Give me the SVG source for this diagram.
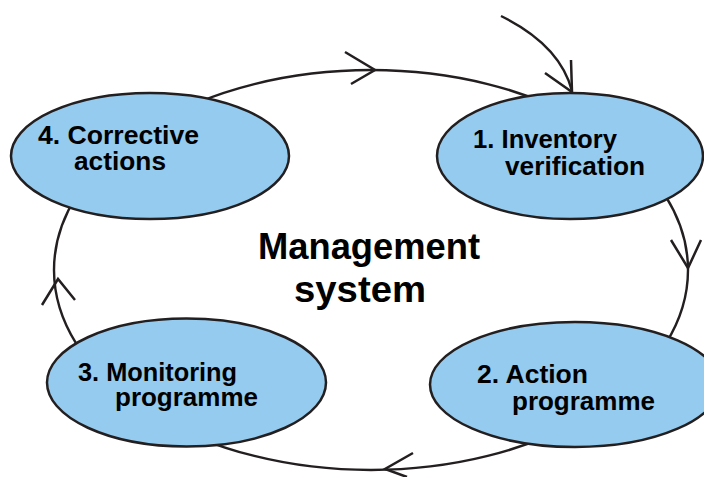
<svg xmlns="http://www.w3.org/2000/svg" width="704" height="477" viewBox="0 0 704 477">
  <style>
    .loop { fill: none; stroke: #231f20; stroke-width: 2.4; }
    .head { fill: none; stroke: #231f20; stroke-width: 2.5; stroke-linecap: butt; }
    .node { fill: #94cbee; stroke: #231f20; stroke-width: 2.5; }
    .lbl { font-family: "Liberation Sans", Arial, sans-serif; font-weight: bold; font-size: 25px; fill: #000; }
    .title { font-family: "Liberation Sans", Arial, sans-serif; font-weight: bold; font-size: 36px; fill: #000; }
  </style>
  <rect width="704" height="477" fill="#ffffff"/>

  <!-- cycle loop and its arrowheads -->
  <g id="connectors">
    <ellipse class="loop" cx="371" cy="270" rx="317" ry="200"/>
    <polyline class="head" points="345,52 375,70 351,84"/>
    <polyline class="head" points="671,240 688,268 701,240"/>
    <polyline class="head" points="413,453 385,469 407,477"/>
    <polyline class="head" points="42,305 58,279 75,300"/>
    <!-- entry arrow into step 1 -->
    <path class="loop" d="M501,16 Q560,45 572,91"/>
    <polyline class="head" points="545,73 572,92 571,60"/>
  </g>

  <text class="title" x="258" y="259" textLength="222" lengthAdjust="spacingAndGlyphs">Management</text>
  <text class="title" x="294" y="302" textLength="132" lengthAdjust="spacingAndGlyphs">system</text>

  <g id="step4">
    <ellipse class="node" cx="150" cy="156" rx="139" ry="63"/>
    <text class="lbl" x="38" y="144" textLength="161" lengthAdjust="spacingAndGlyphs">4. Corrective</text>
    <text class="lbl" x="74" y="170" textLength="92" lengthAdjust="spacingAndGlyphs">actions</text>
  </g>

  <g id="step1">
    <ellipse class="node" cx="570" cy="156" rx="133" ry="63"/>
    <text class="lbl" x="473" y="148" textLength="144" lengthAdjust="spacingAndGlyphs">1. Inventory</text>
    <text class="lbl" x="505" y="175" textLength="140" lengthAdjust="spacingAndGlyphs">verification</text>
  </g>

  <g id="step3">
    <ellipse class="node" cx="186.5" cy="382.5" rx="139.5" ry="64"/>
    <text class="lbl" x="78" y="381" textLength="159" lengthAdjust="spacingAndGlyphs">3. Monitoring</text>
    <text class="lbl" x="115" y="406" textLength="143" lengthAdjust="spacingAndGlyphs">programme</text>
  </g>

  <g id="step2">
    <ellipse class="node" cx="575" cy="384.5" rx="145" ry="62.5"/>
    <text class="lbl" x="477" y="383" textLength="111" lengthAdjust="spacingAndGlyphs">2. Action</text>
    <text class="lbl" x="512" y="410" textLength="143" lengthAdjust="spacingAndGlyphs">programme</text>
  </g>
</svg>
